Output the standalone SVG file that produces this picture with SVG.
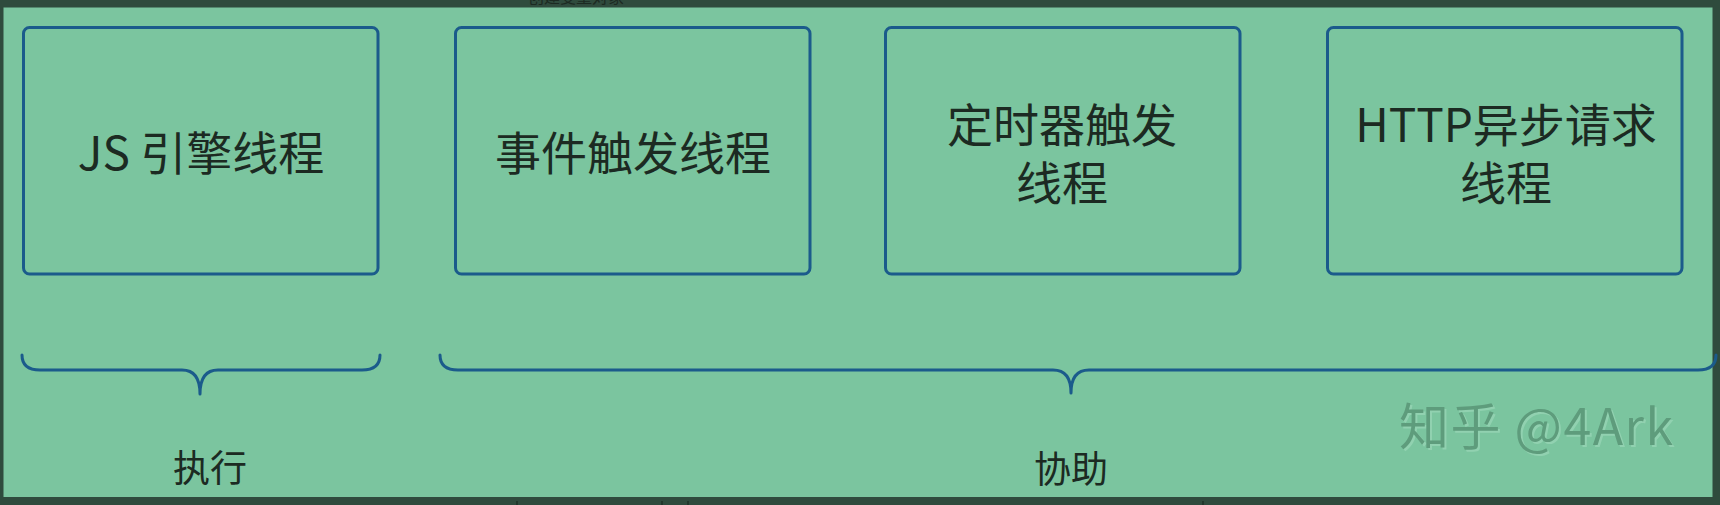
<svg xmlns="http://www.w3.org/2000/svg" width="1720" height="505" viewBox="0 0 1720 505">
  <style>
    .box { fill: none; stroke: #1b5b8b; stroke-width: 3; }
    .brace { fill: none; stroke: #1b5b8b; stroke-width: 3; stroke-linecap: round; }
    .lbl { font-family: "Noto Sans CJK SC", "Noto Sans", sans-serif; font-size: 46px; fill: #1c2a22; text-anchor: middle; }
    .cap { font-family: "Noto Sans CJK SC", "Noto Sans", sans-serif; font-size: 37px; fill: #1c2a22; text-anchor: middle; }
    .wm { font-family: "Noto Sans CJK SC", "Noto Sans", sans-serif; font-size: 50px; }
    .tick { stroke: #1a2a22; stroke-width: 1.2; }
  </style>
  <rect x="0" y="0" width="1720" height="505" fill="#2f4b3d"/>
  <rect x="3.5" y="7.5" width="1709" height="489.5" fill="#7bc59f"/>
  <text x="528" y="3" font-family="'Noto Sans CJK SC', sans-serif" font-size="16" fill="#1c2a22">创建变量对象</text>
  <line class="tick" x1="517" y1="501" x2="517" y2="505"/>
  <line class="tick" x1="662" y1="501" x2="662" y2="505"/>
  <line class="tick" x1="688" y1="501" x2="688" y2="505"/>
  <line class="tick" x1="1203" y1="501" x2="1203" y2="505"/>

  <g id="node-js">
    <rect class="box" x="23.5" y="27.5" width="354.5" height="246.5" rx="6"/>
    <text class="lbl" x="201" y="170">JS 引擎线程</text>
  </g>
  <g id="node-event">
    <rect class="box" x="455.5" y="27.5" width="354.5" height="246.5" rx="6"/>
    <text class="lbl" x="633" y="170">事件触发线程</text>
  </g>
  <g id="node-timer">
    <rect class="box" x="885.5" y="27.5" width="354.5" height="246.5" rx="6"/>
    <text class="lbl" x="1062" y="142">定时器触发<tspan x="1062" y="200">线程</tspan></text>
  </g>
  <g id="node-http">
    <rect class="box" x="1327.5" y="27.5" width="354.5" height="246.5" rx="6"/>
    <text class="lbl" x="1506" y="142">HTTP异步请求<tspan x="1506" y="200">线程</tspan></text>
  </g>

  <g id="connectors">
    <path class="brace" d="M22,355 Q22,370 40,370 L182,370 Q200,370 200,394 M380,355 Q380,370 362,370 L218,370 Q200,370 200,394"/>
    <path class="brace" d="M440,355 Q440,370 458,370 L1053,370 Q1071,370 1071,393 M1716,355 Q1716,370 1698,370 L1089,370 Q1071,370 1071,393"/>
  </g>

  <g id="label-exec">
    <text class="cap" x="210" y="482">执行</text>
  </g>
  <g id="label-assist">
    <text class="cap" x="1071" y="483">协助</text>
  </g>

  <g id="watermark">
    <text class="wm" x="1401" y="447" textLength="274" fill="#a3dcbe" opacity="0.55">知乎 @4Ark</text>
    <text class="wm" x="1399" y="445" textLength="274" fill="#5e9c7c">知乎 @4Ark</text>
  </g>
</svg>
